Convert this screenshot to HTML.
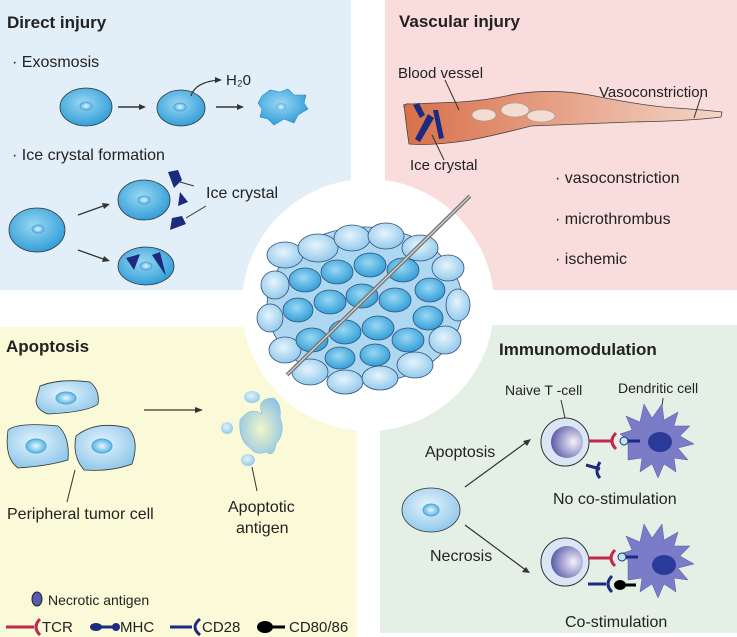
<!DOCTYPE html>
<html><head><meta charset="utf-8"><style>
body{margin:0;background:#fff}
svg{display:block}
text{font-family:"Liberation Sans",Arial,sans-serif;fill:#222}
</style></head><body>
<svg width="737" height="637" viewBox="0 0 737 637" xmlns="http://www.w3.org/2000/svg">
<defs>
<radialGradient id="cb" cx="0.45" cy="0.4" r="0.65"><stop offset="0" stop-color="#9ad8f3"/><stop offset="1" stop-color="#2a9ad6"/></radialGradient>
<radialGradient id="cl" cx="0.45" cy="0.4" r="0.65"><stop offset="0" stop-color="#e6f4fc"/><stop offset="1" stop-color="#8cc6ea"/></radialGradient>
<radialGradient id="nu" cx="0.5" cy="0.5" r="0.5"><stop offset="0" stop-color="#e8f6fd"/><stop offset="1" stop-color="#5ab4e4"/></radialGradient>
<radialGradient id="tc" cx="0.7" cy="0.5" r="0.7"><stop offset="0" stop-color="#f4f2fa"/><stop offset="1" stop-color="#5a5aa8"/></radialGradient>
<linearGradient id="vs" x1="0" x2="1"><stop offset="0" stop-color="#d8704a"/><stop offset="1" stop-color="#f4d6c8"/></linearGradient>
<radialGradient id="ap" cx="0.5" cy="0.55" r="0.6"><stop offset="0" stop-color="#f2f6c8"/><stop offset="1" stop-color="#8cc4e6"/></radialGradient>
</defs>
<rect x="0" y="0" width="351" height="290" fill="#e2eef8"/>
<rect x="385" y="0" width="352" height="290" fill="#f9dcdc"/>
<rect x="0" y="327" width="357" height="310" fill="#fafad8"/>
<rect x="380" y="325" width="357" height="308" fill="#e4f0e6"/>
<circle cx="368" cy="305" r="126" fill="#fff"/>

<!-- Direct injury -->
<text x="7" y="28" font-size="17" font-weight="bold">Direct injury</text>
<text x="12" y="67" font-size="16">· Exosmosis</text>
<text x="12" y="160" font-size="16">· Ice crystal formation</text>
<ellipse cx="86" cy="107" rx="26" ry="19" fill="url(#cb)" stroke="#333" stroke-width="0.8"/>
<ellipse cx="86" cy="106" rx="6" ry="4" fill="url(#nu)" stroke="#4aa8dc"/>
<ellipse cx="181" cy="108" rx="24" ry="18" fill="url(#cb)" stroke="#333" stroke-width="0.8"/>
<ellipse cx="180" cy="107" rx="6" ry="4" fill="url(#nu)" stroke="#4aa8dc"/>
<path d="M262 96 l8 -6 l10 2 l8 -3 l6 6 l12 0 l-2 8 l4 6 l-10 6 l-4 8 l-10 -4 l-10 6 l-6 -6 l-8 -2 l2 -8 l-4 -6z" fill="url(#cb)" stroke="#2a8ac6" stroke-width="0.6"/>
<ellipse cx="281" cy="107" rx="5" ry="4" fill="url(#nu)"/>
<path d="M118 107h26M216 107h26" stroke="#333" stroke-width="1.4"/>
<path d="M146 107l-7-3v6zM244 107l-7-3v6z" fill="#333"/>
<path d="M191 96 q4-14 28-16" fill="none" stroke="#333" stroke-width="1.2"/><path d="M222 80l-7-3v6z" fill="#333"/>
<text x="226" y="85" font-size="15">H₂0</text>
<ellipse cx="37" cy="230" rx="28" ry="22" fill="url(#cb)" stroke="#333" stroke-width="0.8"/>
<ellipse cx="38" cy="229" rx="6" ry="4" fill="url(#nu)" stroke="#4aa8dc"/>
<ellipse cx="144" cy="200" rx="26" ry="20" fill="url(#cb)" stroke="#333" stroke-width="0.8"/>
<ellipse cx="144" cy="200" rx="6" ry="4" fill="url(#nu)" stroke="#4aa8dc"/>
<ellipse cx="146" cy="266" rx="28" ry="19" fill="url(#cb)" stroke="#333" stroke-width="0.8"/>
<ellipse cx="146" cy="266" rx="6" ry="4" fill="url(#nu)" stroke="#4aa8dc"/>
<path d="M126 258l14-4l-6 16z M152 255l8-3l6 24z" fill="#1c2a80"/>
<path d="M168 172l10 -2l4 10l-8 8z M180 192l8 10l-10 4z M172 218l10 -2l4 8l-16 6z" fill="#1c2a80"/>
<path d="M180 182l14 4M186 218l20 -12" stroke="#333" stroke-width="1"/>
<text x="206" y="198" font-size="16">Ice crystal</text>
<path d="M78 215l28 -10M78 250l28 10" stroke="#333" stroke-width="1.3"/>
<path d="M110 204l-8 -1l2 6zM110 261l-8 1l2 -6z" fill="#333"/>

<!-- Vascular -->
<text x="399" y="27" font-size="17" font-weight="bold">Vascular injury</text>
<path d="M404 108 q0-5 6-4 l50 -2 q30-2 55-8 q40-6 80 2 q50 10 80 12 q30 2 47 4 l-1 5 q-30 4-90 5 q-50 2-100 4 q-30 8-60 14 q-40 6-62 4 q-3-20-5-40z" fill="url(#vs)" stroke="#444" stroke-width="0.8"/>
<ellipse cx="484" cy="115" rx="12" ry="6" fill="#f3ddd2" stroke="#999" stroke-width="0.6"/>
<ellipse cx="515" cy="110" rx="14" ry="7" fill="#f3ddd2" stroke="#999" stroke-width="0.6"/>
<ellipse cx="541" cy="116" rx="14" ry="6" fill="#f3ddd2" stroke="#999" stroke-width="0.6"/>
<path d="M413 105l6 -2l6 12l-5 3z M428 114l6 4l-14 24l-5 -3z M433 110l5 0l6 28l-5 1z" fill="#1c2a80"/>
<path d="M445 80l14 30M432 135l12 25M702 93l-8 25" stroke="#333" stroke-width="1"/>
<text x="398" y="78" font-size="15">Blood vessel</text>
<text x="410" y="170" font-size="15">Ice crystal</text>
<text x="599" y="97" font-size="15">Vasoconstriction</text>
<text x="555" y="183" font-size="16">· vasoconstriction</text>
<text x="555" y="224" font-size="16">· microthrombus</text>
<text x="555" y="264" font-size="16">· ischemic</text>

<!-- Center cluster -->
<g stroke="#33507a" stroke-width="0.8">
<ellipse cx="365" cy="305" rx="98" ry="78" fill="#aed8f2"/>
<g fill="url(#cl)">
<ellipse cx="285" cy="255" rx="18" ry="13"/><ellipse cx="318" cy="248" rx="20" ry="14"/><ellipse cx="352" cy="238" rx="18" ry="13"/><ellipse cx="386" cy="236" rx="18" ry="13"/><ellipse cx="420" cy="248" rx="18" ry="13"/><ellipse cx="448" cy="268" rx="16" ry="13"/>
<ellipse cx="275" cy="285" rx="14" ry="14"/><ellipse cx="270" cy="318" rx="13" ry="14"/><ellipse cx="285" cy="350" rx="16" ry="13"/><ellipse cx="310" cy="372" rx="18" ry="13"/><ellipse cx="345" cy="382" rx="18" ry="12"/><ellipse cx="380" cy="378" rx="18" ry="12"/><ellipse cx="415" cy="365" rx="18" ry="13"/><ellipse cx="445" cy="340" rx="16" ry="14"/><ellipse cx="458" cy="305" rx="12" ry="16"/>
</g>
<g fill="url(#cb)">
<ellipse cx="305" cy="280" rx="16" ry="12"/><ellipse cx="337" cy="272" rx="16" ry="12"/><ellipse cx="370" cy="265" rx="16" ry="12"/><ellipse cx="403" cy="270" rx="16" ry="12"/><ellipse cx="430" cy="290" rx="15" ry="12"/>
<ellipse cx="298" cy="310" rx="15" ry="12"/><ellipse cx="330" cy="302" rx="16" ry="12"/><ellipse cx="362" cy="296" rx="16" ry="12"/><ellipse cx="395" cy="300" rx="16" ry="12"/><ellipse cx="428" cy="318" rx="15" ry="12"/>
<ellipse cx="312" cy="340" rx="16" ry="12"/><ellipse cx="345" cy="332" rx="16" ry="12"/><ellipse cx="378" cy="328" rx="16" ry="12"/><ellipse cx="408" cy="340" rx="16" ry="12"/>
<ellipse cx="340" cy="358" rx="15" ry="11"/><ellipse cx="375" cy="355" rx="15" ry="11"/>
</g>
</g>
<line x1="470" y1="196" x2="287" y2="375" stroke="#777" stroke-width="4"/>
<line x1="470" y1="196" x2="287" y2="375" stroke="#ddd" stroke-width="1.2"/>

<!-- Apoptosis -->
<text x="6" y="352" font-size="17" font-weight="bold">Apoptosis</text>
<path d="M40 386 q20-8 50-4 q10 8 8 22 q-10 8-50 10 q-12-4-12-14z" fill="url(#cl)" stroke="#333" stroke-width="0.8"/>
<ellipse cx="66" cy="398" rx="10" ry="6" fill="url(#nu)" stroke="#4aa8dc"/>
<path d="M8 430 q10-8 50-4 q12 10 10 34 q-20 6-50 8 q-14-10-10-38z" fill="url(#cl)" stroke="#333" stroke-width="0.8"/>
<ellipse cx="36" cy="446" rx="10" ry="7" fill="url(#nu)" stroke="#4aa8dc"/>
<path d="M76 436 q20-16 52-8 q12 12 4 36 q-20 8-48 6 q-12-14-8-34z" fill="url(#cl)" stroke="#333" stroke-width="0.8"/>
<ellipse cx="102" cy="446" rx="10" ry="7" fill="url(#nu)" stroke="#4aa8dc"/>
<path d="M75 470l-8 32" stroke="#333"/>
<text x="7" y="519" font-size="16">Peripheral tumor cell</text>
<path d="M144 410h54" stroke="#333" stroke-width="1.2"/><path d="M203 410l-8-3v6z" fill="#333"/>
<path d="M240 420 q10-14 22-6 q-6-16 12-16 q8 6 6 20 q6 14-4 26 q-2 14-10 8 q-10 4-16-4 q-12-8-10-28z" fill="url(#ap)" stroke="#7ab2d8" stroke-width="0.5"/>
<ellipse cx="252" cy="397" rx="8" ry="6" fill="url(#cl)"/><ellipse cx="227" cy="428" rx="6" ry="6" fill="url(#cl)"/><ellipse cx="248" cy="460" rx="7" ry="6" fill="url(#cl)"/>
<path d="M252 467l5 24" stroke="#333"/>
<text x="228" y="512" font-size="16">Apoptotic</text>
<text x="236" y="533" font-size="16">antigen</text>
<ellipse cx="37" cy="599" rx="5" ry="7" fill="#5a5ab0" stroke="#223"/>
<text x="48" y="605" font-size="14">Necrotic antigen</text>
<path d="M6 627h28M40 619 q-8 8 0 16" stroke="#c0284e" stroke-width="3" fill="none"/>
<text x="42" y="632" font-size="15">TCR</text>
<path d="M94 627h20" stroke="#1c2a80" stroke-width="3"/><ellipse cx="96" cy="627" rx="6" ry="4" fill="#1c2a80"/><ellipse cx="116" cy="627" rx="4" ry="4" fill="#1c2a80"/>
<text x="120" y="632" font-size="15">MHC</text>
<path d="M170 627h22M200 619 q-10 8 0 16" stroke="#1c2a80" stroke-width="3" fill="none"/>
<text x="202" y="632" font-size="15">CD28</text>
<ellipse cx="265" cy="627" rx="8" ry="6" fill="#000"/><path d="M265 627h20" stroke="#000" stroke-width="3"/>
<text x="289" y="632" font-size="15">CD80/86</text>

<!-- Immunomodulation -->
<text x="499" y="355" font-size="17" font-weight="bold">Immunomodulation</text>
<text x="505" y="395" font-size="14">Naive T -cell</text>
<text x="618" y="393" font-size="14">Dendritic cell</text>
<path d="M561 400l4 18M663 398l-3 24" stroke="#333"/>
<circle cx="565" cy="442" r="24" fill="#dae6f6" stroke="#333"/>
<circle cx="567" cy="442" r="16" fill="url(#tc)"/>
<circle cx="565" cy="562" r="24" fill="#dae6f6" stroke="#333"/>
<circle cx="567" cy="562" r="16" fill="url(#tc)"/>
<g fill="#7a7cc8" stroke="#5a5aa8" stroke-width="0.5">
<path d="M628 440 l-8-6 l12 -4 l-6-14 l14 6 l4-18 l8 14 l10-14 l2 16 l14-8 l-4 14 l16 0 l-10 10 l14 8 l-16 4 l10 12 l-14 -2 l2 14 l-12-8 l-6 14 l-6-14 l-12 8 l2-14 l-14 2z"/>
<path d="M628 560 l-8-6 l12 -4 l-6-14 l14 6 l4-18 l8 14 l10-14 l2 16 l14-8 l-4 14 l16 0 l-10 10 l14 8 l-16 4 l10 12 l-14 -2 l2 14 l-12-8 l-6 14 l-6-14 l-12 8 l2-14 l-14 2z"/>
</g>
<ellipse cx="660" cy="442" rx="12" ry="10" fill="#2a3a98"/>
<ellipse cx="664" cy="565" rx="12" ry="10" fill="#2a3a98"/>
<path d="M589 441h22M616 433 q-8 8 0 16" stroke="#c0284e" stroke-width="3" fill="none"/>
<path d="M626 441h14" stroke="#1c2a80" stroke-width="3"/><circle cx="624" cy="441" r="4" fill="#bde6f2" stroke="#1c2a80"/>
<path d="M586 465 l14 4 M600 462 q-6 10 0 16" stroke="#1c2a80" stroke-width="3" fill="none"/>
<text x="553" y="504" font-size="16">No co-stimulation</text>
<path d="M588 558h22M615 550 q-8 8 0 16" stroke="#c0284e" stroke-width="3" fill="none"/>
<path d="M624 557h14" stroke="#1c2a80" stroke-width="3"/><circle cx="622" cy="557" r="4" fill="#bde6f2" stroke="#1c2a80"/>
<path d="M588 584h18M612 576 q-8 8 0 16" stroke="#1c2a80" stroke-width="3" fill="none"/>
<ellipse cx="620" cy="585" rx="6" ry="5" fill="#000"/><path d="M620 585h16" stroke="#000" stroke-width="3"/>
<text x="565" y="627" font-size="16">Co-stimulation</text>
<ellipse cx="431" cy="510" rx="29" ry="22" fill="url(#cl)" stroke="#333" stroke-width="0.8"/>
<ellipse cx="431" cy="510" rx="8" ry="6" fill="url(#nu)" stroke="#4aa8dc"/>
<path d="M465 487l63-46M465 525l62 46" stroke="#333" stroke-width="1.2"/>
<path d="M531 439l-8 2l4 5zM530 573l-4-6l-4 5z" fill="#333"/>
<text x="425" y="457" font-size="16">Apoptosis</text>
<text x="430" y="561" font-size="16">Necrosis</text>
</svg>
</body></html>
